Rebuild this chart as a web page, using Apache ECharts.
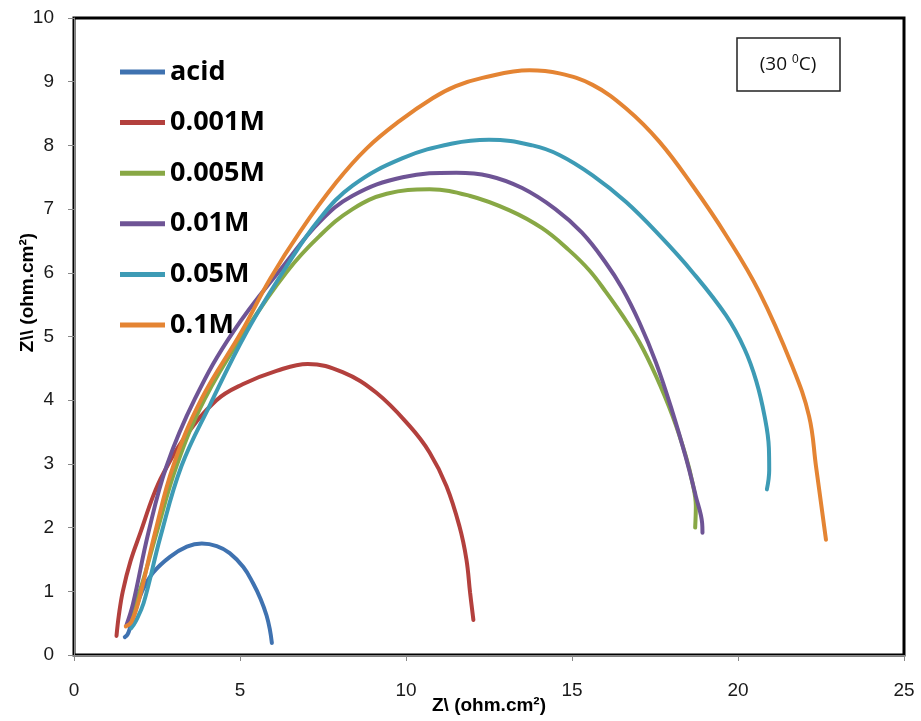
<!DOCTYPE html>
<html>
<head>
<meta charset="utf-8">
<script src="https://cdn.jsdelivr.net/npm/echarts@6/dist/echarts.min.js"></script>
<style>
  html, body { margin: 0; padding: 0; background: #fff; }
  #chart { width: 921px; height: 721px; }
</style>
</head>
<body>
<div id="chart"></div>
<script>
// Nyquist curves: [Z' , Z''] pairs in ohm.cm2
const seriesNames = ['acid', '0.001M', '0.005M', '0.01M', '0.05M', '0.1M'];

const acid = [[1.53,0.28],[1.62,0.33],[1.7,0.45],[1.85,0.7],[2.05,1.0],[2.38,1.29],[2.89,1.54],[3.4,1.7],[3.85,1.75],[4.3,1.71],[4.69,1.6],[5.1,1.38],[5.39,1.13],[5.62,0.88],[5.8,0.62],[5.9,0.4],[5.96,0.19]];

const m0001 = [[1.28,0.3],[1.35,0.62],[1.47,1.0],[1.7,1.47],[2.0,1.92],[2.38,2.49],[2.69,2.85],[3.34,3.42],[4.29,4.0],[5.08,4.25],[6.1,4.46],[7.04,4.57],[8.09,4.44],[9.1,4.12],[10.1,3.6],[10.71,3.18],[11.22,2.65],[11.61,2.02],[11.82,1.5],[11.93,0.98],[12.03,0.55]];

const m0005 = [[1.62,0.5],[1.78,0.72],[2.04,1.1],[2.49,1.92],[3.09,2.97],[3.94,4.02],[5.14,5.07],[6.4,6.01],[7.4,6.58],[8.39,7.0],[9.42,7.24],[10.71,7.31],[11.91,7.21],[13.12,6.98],[14.1,6.7],[14.9,6.36],[15.52,6.04],[16.02,5.7],[16.52,5.33],[17.03,4.91],[17.53,4.38],[18.03,3.75],[18.43,3.12],[18.63,2.7],[18.73,2.34],[18.71,2.0]];

const m001 = [[1.58,0.47],[1.78,0.81],[2.24,1.92],[2.79,2.97],[3.64,4.02],[4.79,5.07],[6.4,6.17],[7.4,6.8],[8.39,7.21],[9.9,7.5],[11.52,7.57],[12.5,7.52],[13.5,7.33],[14.5,7.0],[15.3,6.63],[16.0,6.17],[16.52,5.75],[17.03,5.22],[17.53,4.59],[18.03,3.81],[18.43,3.1],[18.73,2.49],[18.92,2.07],[18.93,1.92]];

const m005 = [[1.72,0.42],[1.85,0.52],[2.1,0.82],[2.6,1.85],[3.24,2.97],[4.09,3.92],[5.2,5.07],[6.4,6.1],[7.4,6.85],[8.39,7.37],[9.9,7.8],[11.4,8.03],[12.5,8.09],[13.81,8.0],[14.62,7.85],[15.62,7.53],[16.63,7.11],[17.63,6.59],[18.63,6.01],[19.64,5.33],[20.2,4.8],[20.55,4.3],[20.8,3.75],[20.93,3.25],[20.94,2.9],[20.87,2.6]];

const m01 = [[1.56,0.45],[1.73,0.52],[1.96,0.87],[2.44,1.92],[2.99,2.97],[3.84,4.02],[5.04,5.07],[5.9,5.9],[6.8,6.64],[7.9,7.42],[8.81,7.95],[9.8,8.38],[10.8,8.74],[11.5,8.93],[12.3,9.06],[13.72,9.18],[14.62,9.13],[15.62,8.95],[16.63,8.58],[17.63,8.06],[18.63,7.37],[19.64,6.59],[20.64,5.7],[21.63,4.54],[22.14,3.75],[22.35,2.96],[22.65,1.81]];

const seriesData = [acid, m0001, m0005, m001, m005, m01];
const colors = ['#3F72B0', '#B3403D', '#88A845', '#6E5495', '#3D9BB5', '#E48433'];

const xTicks = [0, 5, 10, 15, 20, 25];
const yTicks = [0, 1, 2, 3, 4, 5, 6, 7, 8, 9, 10];

const chart = echarts.init(document.getElementById('chart'), null, { renderer: 'canvas' });

const tickFont = { fontFamily: 'Liberation Sans, Arial, sans-serif', fontSize: 19, color: '#1a1a1a' };
const nameFont = { fontFamily: 'Liberation Sans, Arial, sans-serif', fontWeight: 'bold', fontSize: 19, color: '#000' };

chart.setOption({
  animation: false,
  backgroundColor: '#fff',
  color: colors,
  grid: {
    left: 74, right: 17, top: 18, bottom: 66,
    outerBoundsMode: 'none',
    containLabel: false,
    show: true, borderColor: '#000', borderWidth: 3, backgroundColor: 'transparent'
  },
  legend: {
    data: seriesNames,
    orient: 'vertical',
    left: 115, top: 52,
    icon: 'rect',
    itemWidth: 45, itemHeight: 5,
    itemGap: 20.6,
    textStyle: {
      fontFamily: 'Open Sans, sans-serif', fontWeight: 'bold', fontSize: 27,
      color: '#000', lineHeight: 30
    }
  },
  xAxis: {
    type: 'value',
    min: xTicks[0], max: xTicks[xTicks.length - 1], interval: 5,
    name: 'Z\\ (ohm.cm²)',
    nameLocation: 'middle', nameGap: 41,
    nameMoveOverlap: false,
    nameTextStyle: nameFont,
    axisLine: { show: true, lineStyle: { color: '#888', width: 1 } },
    axisTick: { show: true, length: 6, lineStyle: { color: '#888' } },
    axisLabel: Object.assign({ margin: 26 }, tickFont),
    splitLine: { show: false }
  },
  yAxis: {
    type: 'value',
    min: yTicks[0], max: yTicks[yTicks.length - 1], interval: 1,
    name: 'Z\\\\ (ohm.cm²)',
    nameLocation: 'middle', nameGap: 37,
    nameMoveOverlap: false,
    nameTextStyle: Object.assign({ padding: [0, 0, 0, 88] }, nameFont),
    axisLine: { show: true, lineStyle: { color: '#888', width: 1 } },
    axisTick: { show: true, length: 6, lineStyle: { color: '#888' } },
    axisLabel: Object.assign({ margin: 20 }, tickFont),
    splitLine: { show: false }
  },
  graphic: [
    {
      type: 'rect',
      shape: { x: 737, y: 38, width: 103, height: 53 },
      style: { fill: '#fff', stroke: '#222', lineWidth: 1.5 },
      z: 10
    },
    {
      type: 'text',
      x: 788, y: 65,
      style: {
        text: '(30 {sup|0}C)',
        x: 0, y: 0,
        align: 'center', verticalAlign: 'middle',
        fontFamily: 'Open Sans, sans-serif', fontSize: 19, fill: '#111',
        rich: { sup: { fontSize: 12, verticalAlign: 'top', padding: [0, 0, 10, 0] } }
      },
      z: 11
    }
  ],
  series: seriesNames.map((name, i) => ({
    name: name,
    type: 'line',
    data: seriesData[i],
    smooth: 0.4,
    showSymbol: false,
    symbol: 'none',
    lineStyle: { width: 4, color: colors[i], cap: 'round' },
    itemStyle: { color: colors[i] }
  }))
});
</script>
</body>
</html>
